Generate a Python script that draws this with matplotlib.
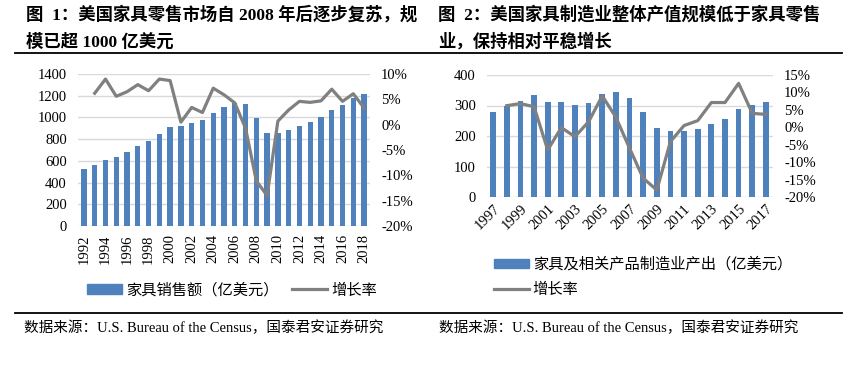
import matplotlib
matplotlib.use("Agg")
import matplotlib.pyplot as plt
from matplotlib.patches import Patch
from matplotlib.lines import Line2D
from matplotlib.ticker import FuncFormatter, MultipleLocator
import numpy as np

plt.rcParams['font.family'] = ['Liberation Serif', 'Noto Sans CJK SC', 'DejaVu Sans']

# figure 1: US furniture retail sales (100M USD) and growth
years1 = list(range(1992, 2019))
sales1 = [525, 560, 605, 640, 680, 735, 780, 845, 915, 920, 950, 975, 1040, 1095,
          1135, 1120, 995, 855, 860, 880, 920, 960, 1000, 1070, 1115, 1180, 1220]
growth1 = [None, 6.2, 9.0, 5.6, 6.5, 7.9, 6.7, 9.0, 8.7, 0.5, 3.4, 2.4, 7.2, 5.9,
           4.3, -0.7, -11.1, -14.0, 0.7, 2.9, 4.6, 4.4, 4.7, 7.0, 4.6, 6.1, 3.3]

# figure 2: US furniture manufacturing output and growth
years2 = list(range(1997, 2018))
output2 = [278, 297, 315, 335, 311, 311, 303, 308, 337, 344, 325, 278, 227, 217,
           218, 223, 240, 256, 289, 301, 313]
growth2 = [None, 6.2, 6.8, 5.9, -6.5, -0.1, -2.7, 1.6, 9.0, 2.9, -6.0, -14.6, -18.0,
           -4.1, 0.5, 1.9, 7.1, 7.1, 12.6, 4.0, 3.7]

BLUE = '#4f81bd'
GRAY = '#808080'
GRID = '#d9d9d9'
W, H = 849, 368

fig = plt.figure(figsize=(W / 100, H / 100), dpi=100)


def fx(px):
    return px / W


def fy(py):
    return 1 - py / H


pct = FuncFormatter(lambda v, p: '%d%%' % round(v))


def style(ax, ax2):
    for a in (ax, ax2):
        for s in a.spines.values():
            s.set_visible(False)
        a.tick_params(length=0, labelsize=10.5)
    ax.tick_params(axis='y', pad=8)
    ax2.tick_params(axis='y', pad=8)
    ax.grid(axis='y', color=GRID, linewidth=1)
    ax.set_axisbelow(True)


# titles
tkw = dict(fontsize=12.5, fontweight='bold', va='center', ha='left')
fig.text(fx(26), fy(15), '图  1：美国家具零售市场自 2008 年后逐步复苏，规', **tkw)
fig.text(fx(26), fy(42), '模已超 1000 亿美元', **tkw)
fig.text(fx(438), fy(15), '图  2：美国家具制造业整体产值规模低于家具零售', **tkw)
fig.text(fx(438), fy(42), '业，保持相对平稳增长', **tkw)
fig.add_artist(Line2D([fx(15), fx(842)], [fy(53), fy(53)], color='black', lw=1.3))
fig.add_artist(Line2D([fx(15), fx(842)], [fy(313), fy(313)], color='black', lw=1.3))

src = '数据来源：U.S. Bureau of the Census，国泰君安证券研究'
fig.text(fx(24), fy(328), src, fontsize=10.5, va='center', ha='left')
fig.text(fx(439), fy(328), src, fontsize=10.5, va='center', ha='left')

# ---- chart 1
ax1 = fig.add_axes([fx(78), fy(226), fx(370 - 78), (226 - 74) / H])
ax1b = ax1.twinx()
x1 = np.arange(len(years1))
ax1.bar(x1, sales1, width=0.5, color=BLUE)
g1 = np.array([np.nan if v is None else v for v in growth1])
ax1b.plot(x1, g1, color=GRAY, lw=2.3)
ax1.set_ylim(0, 1400)
ax1.yaxis.set_major_locator(MultipleLocator(200))
ax1b.set_ylim(-20, 10)
ax1b.yaxis.set_major_locator(MultipleLocator(5))
ax1b.yaxis.set_major_formatter(pct)
ax1.set_xlim(-0.55, len(years1) - 0.45)
ax1.set_xticks(x1[::2])
ax1.set_xticklabels([str(y) for y in years1[::2]], rotation=90)
style(ax1, ax1b)
ax1.tick_params(axis='x', pad=6)

h1 = [Patch(color=BLUE), Line2D([], [], color=GRAY, lw=2.3)]
fig.legend(h1, ['家具销售额（亿美元）', '增长率'], loc='center left',
           bbox_to_anchor=(fx(73), fy(290)), ncol=2, frameon=False,
           handlelength=2.3, handleheight=0.55, handletextpad=0.25,
           columnspacing=0.9, prop={'family': ['Noto Sans CJK SC'], 'size': 11})

# ---- chart 2
ax2 = fig.add_axes([fx(487), fy(197), fx(773 - 487), (197 - 75) / H])
ax2b = ax2.twinx()
x2 = np.arange(len(years2))
ax2.bar(x2, output2, width=0.42, color=BLUE)
g2 = np.array([np.nan if v is None else v for v in growth2])
ax2b.plot(x2, g2, color=GRAY, lw=2.3)
ax2.set_ylim(0, 400)
ax2.yaxis.set_major_locator(MultipleLocator(100))
ax2b.set_ylim(-20, 15)
ax2b.yaxis.set_major_locator(MultipleLocator(5))
ax2b.yaxis.set_major_formatter(pct)
ax2.set_xlim(-0.45, len(years2) - 0.48)
ax2.set_xticks(x2[::2])
ax2.set_xticklabels([str(y) for y in years2[::2]], rotation=45, ha='right',
                    rotation_mode='anchor')
style(ax2, ax2b)
ax2.tick_params(axis='x', pad=4)

h2 = [Patch(color=BLUE), Line2D([], [], color=GRAY, lw=2.3)]
fig.legend(h2, ['家具及相关产品制造业产出（亿美元）', '增长率'], loc='upper left',
           bbox_to_anchor=(fx(480), fy(242)), ncol=1, frameon=False,
           handlelength=2.3, handleheight=0.55, handletextpad=0.25,
           labelspacing=0.55, prop={'family': ['Noto Sans CJK SC'], 'size': 11})

fig.savefig('out.png', dpi=100)
